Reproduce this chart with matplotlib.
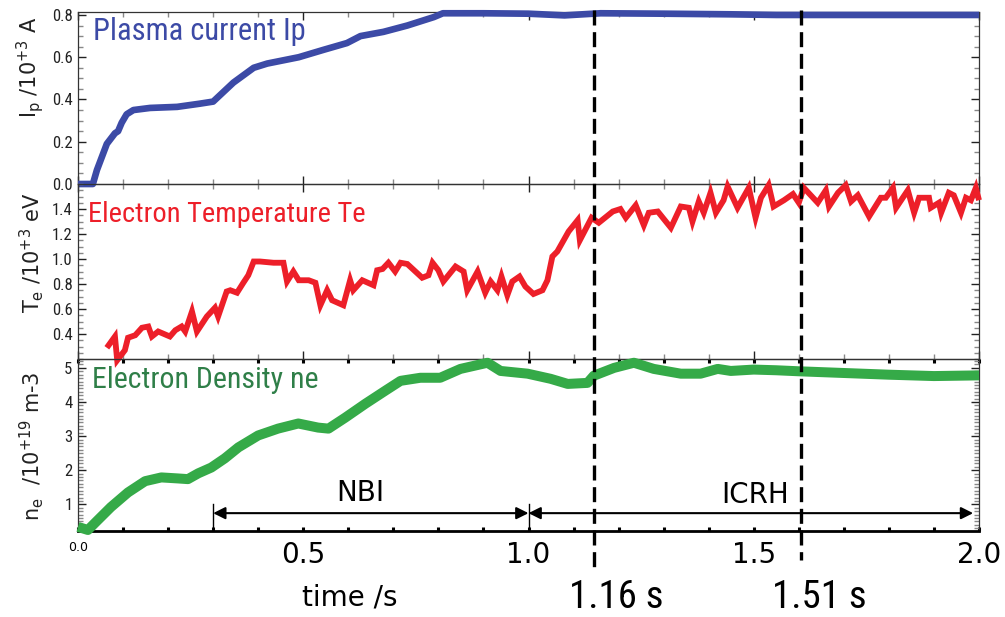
import matplotlib
matplotlib.use("Agg")
import matplotlib.pyplot as plt
from matplotlib import font_manager
from matplotlib.ticker import MultipleLocator
from matplotlib.transforms import blended_transform_factory
from matplotlib.lines import Line2D

# --- plasma current Ip (10^3 A) ---
t_ip = [0.0, 0.033, 0.042, 0.064, 0.082, 0.089, 0.097, 0.108, 0.123, 0.16, 0.22,
        0.27, 0.30, 0.345, 0.39, 0.42, 0.49, 0.545, 0.597, 0.627, 0.678, 0.731,
        0.79, 0.81, 0.9, 1.0, 1.08, 1.16, 1.3, 1.45, 1.55, 1.65, 1.8, 2.0]
ip = [0.0, 0.0, 0.066, 0.19, 0.24, 0.25, 0.29, 0.33, 0.35, 0.36, 0.365,
      0.38, 0.39, 0.48, 0.55, 0.57, 0.60, 0.635, 0.667, 0.70, 0.72, 0.75,
      0.79, 0.808, 0.808, 0.806, 0.798, 0.808, 0.806, 0.803, 0.80, 0.80, 0.80, 0.80]

# --- electron temperature Te (10^3 eV) ---
t_te = [0.064, 0.082, 0.087, 0.104, 0.111, 0.127, 0.142, 0.156, 0.164, 0.178,
        0.204, 0.216, 0.23, 0.238, 0.253, 0.264, 0.286, 0.304, 0.311, 0.33,
        0.338, 0.353, 0.367, 0.378, 0.39, 0.404, 0.434, 0.456, 0.464, 0.478,
        0.49, 0.512, 0.527, 0.538, 0.553, 0.564, 0.589, 0.604, 0.611, 0.631,
        0.656, 0.664, 0.676, 0.689, 0.704, 0.716, 0.731, 0.764, 0.778, 0.787,
        0.80, 0.811, 0.838, 0.856, 0.864, 0.887, 0.904, 0.916, 0.931, 0.94,
        0.953, 0.964, 0.98, 0.993, 1.011, 1.031, 1.042, 1.053, 1.064, 1.089,
        1.109, 1.114, 1.14, 1.156, 1.187, 1.204, 1.216, 1.238, 1.256, 1.267,
        1.287, 1.316, 1.338, 1.356, 1.364, 1.378, 1.389, 1.404, 1.416, 1.433,
        1.442, 1.464, 1.489, 1.504, 1.516, 1.533, 1.544, 1.567, 1.587, 1.60,
        1.611, 1.642, 1.66, 1.667, 1.687, 1.704, 1.716, 1.731, 1.756, 1.782,
        1.793, 1.809, 1.816, 1.842, 1.856, 1.867, 1.889, 1.893, 1.911, 1.916,
        1.933, 1.944, 1.96, 1.971, 1.982, 1.993, 2.0]
te = [0.29, 0.38, 0.19, 0.27, 0.37, 0.39, 0.45, 0.46, 0.38, 0.42,
      0.38, 0.43, 0.46, 0.42, 0.58, 0.42, 0.54, 0.61, 0.54, 0.74,
      0.75, 0.73, 0.81, 0.87, 0.98, 0.98, 0.97, 0.97, 0.82, 0.90,
      0.83, 0.83, 0.81, 0.63, 0.75, 0.67, 0.63, 0.83, 0.75, 0.83,
      0.79, 0.91, 0.92, 0.97, 0.90, 0.97, 0.96, 0.85, 0.87, 0.97,
      0.91, 0.82, 0.94, 0.90, 0.75, 0.90, 0.73, 0.82, 0.75, 0.86,
      0.71, 0.82, 0.86, 0.78, 0.72, 0.75, 0.83, 1.02, 1.06, 1.22,
      1.31, 1.15, 1.33, 1.29, 1.38, 1.40, 1.33, 1.43, 1.27, 1.37,
      1.38, 1.25, 1.42, 1.41, 1.30, 1.46, 1.37, 1.53, 1.37, 1.47,
      1.58, 1.41, 1.57, 1.33, 1.49, 1.59, 1.42, 1.47, 1.52, 1.45,
      1.57, 1.45, 1.55, 1.42, 1.53, 1.59, 1.46, 1.51, 1.34, 1.49,
      1.49, 1.57, 1.41, 1.55, 1.37, 1.49, 1.49, 1.41, 1.45, 1.37,
      1.53, 1.51, 1.37, 1.49, 1.47, 1.57, 1.47]

# --- electron density ne (10^19 m^-3) ---
t_ne = [0.0, 0.022, 0.044, 0.073, 0.111, 0.149, 0.185, 0.222, 0.244, 0.267,
        0.296, 0.326, 0.356, 0.40, 0.444, 0.489, 0.533, 0.556, 0.593, 0.638,
        0.682, 0.716, 0.76, 0.804, 0.849, 0.909, 0.938, 0.998, 1.049, 1.087,
        1.131, 1.145, 1.19, 1.234, 1.278, 1.338, 1.382, 1.42, 1.449, 1.5,
        1.55, 1.6, 1.7, 1.8, 1.9, 2.0]
ne = [0.34, 0.25, 0.54, 0.92, 1.35, 1.68, 1.79, 1.76, 1.74, 1.91,
      2.08, 2.35, 2.67, 3.02, 3.22, 3.37, 3.25, 3.22, 3.54, 3.95,
      4.33, 4.62, 4.71, 4.71, 4.97, 5.15, 4.91, 4.83, 4.68, 4.53,
      4.56, 4.77, 5.0, 5.15, 4.97, 4.83, 4.83, 4.97, 4.91, 4.95,
      4.93, 4.90, 4.85, 4.80, 4.76, 4.78]

# heating phases and marked times
nbi_window = [0.3, 1.0]
icrh_window = [1.0, 1.987]
event_times = [1.145, 1.605]
event_labels = ["1.16 s", "1.51 s"]

xticks = [0.0, 0.5, 1.0, 1.5, 2.0]
xticklabels = ["0.0", "0.5", "1.0", "1.5", "2.0"]

BLUE = "#3c4aa6"
RED = "#ed1f29"
GREEN = "#35aa48"
GREEN_TXT = "#2f7f48"


def pick_font(cands):
    names = {f.name for f in font_manager.fontManager.ttflist}
    for c in cands:
        if c in names:
            return c
    return "DejaVu Sans"


narrow = pick_font(["Roboto Condensed", "DejaVu Sans Condensed",
                    "Liberation Sans Narrow", "Roboto"])

plt.rcParams["font.family"] = ["DejaVu Sans"]
plt.rcParams["mathtext.default"] = "regular"

W, H = 1005, 617
fig = plt.figure(figsize=(W / 100, H / 100), dpi=100)


def fig_rect(x0, y0, x1, y1):
    return [x0 / W, 1 - y1 / H, (x1 - x0) / W, (y1 - y0) / H]


ax_ip = fig.add_axes(fig_rect(78, 12, 979, 184))
ax_te = fig.add_axes(fig_rect(78, 184, 979, 359))
ax_ne = fig.add_axes(fig_rect(78, 359, 979, 531))
axes = [ax_ip, ax_te, ax_ne]

ax_ip.plot(t_ip, ip, color=BLUE, lw=4.8, solid_capstyle="butt",
           solid_joinstyle="round", clip_on=False, zorder=3)
ax_te.plot(t_te, te, color=RED, lw=4.2, solid_capstyle="butt",
           solid_joinstyle="miter", clip_on=False, zorder=3)
ax_ne.plot(t_ne, ne, color=GREEN, lw=7.2, solid_capstyle="butt",
           solid_joinstyle="round", clip_on=False, zorder=3)

ax_ip.set_ylim(0.0, 0.814)
ax_te.set_ylim(0.2, 1.6)
ax_ne.set_ylim(0.22, 5.26)

ax_ip.yaxis.set_major_locator(MultipleLocator(0.2))
ax_ip.yaxis.set_minor_locator(MultipleLocator(0.05))
ax_te.set_yticks([0.4, 0.6, 0.8, 1.0, 1.2, 1.4])
ax_te.yaxis.set_minor_locator(MultipleLocator(0.05))
ax_ne.set_yticks([1, 2, 3, 4, 5])
ax_ne.yaxis.set_minor_locator(MultipleLocator(0.1))

for ax in axes:
    ax.set_xlim(0, 2.0)
    ax.set_xticks(xticks)
    ax.xaxis.set_minor_locator(MultipleLocator(0.1))
    ax.tick_params(which="both", direction="in", top=True, right=True,
                   colors="#222222", labelcolor="#222222")
    ax.tick_params(which="major", length=6, width=1.0)
    ax.tick_params(which="minor", length=3.5, width=1.0, color="#888888")
    ax.tick_params(axis="y", labelsize=12, pad=4)
    for lbl in ax.get_yticklabels():
        lbl.set_family(narrow)
    for s in ax.spines.values():
        s.set_color("#333333")
        s.set_linewidth(0.9)
    ax.set_facecolor("none")
    if ax is not ax_ne:
        ax.tick_params(axis="x", labelbottom=False)

ax_ne.spines["bottom"].set_color("black")
ax_ne.spines["bottom"].set_linewidth(2.0)
ax_ne.set_xticklabels(xticklabels)
ax_ne.tick_params(axis="x", which="both", labelsize=20, pad=7, colors="black",
                  width=2.2, length=3)
ax_ne.get_xticklabels()[0].set_fontsize(9)

# y axis labels
ylab_kw = dict(fontsize=15, color="#222222")
ax_ip.set_ylabel(r"I$_{p}$ /10$^{+3}$ A", **ylab_kw)
ax_te.set_ylabel(r"T$_{e}$ /10$^{+3}$ eV", **ylab_kw)
ax_ne.set_ylabel(r"n$_{e}$  /10$^{+19}$ m-3", **ylab_kw)
ax_ip.yaxis.set_label_coords(-0.036, 0.68)
ax_te.yaxis.set_label_coords(-0.036, 0.61)
ax_ne.yaxis.set_label_coords(-0.036, 0.49)

# panel titles
title_kw = dict(family=narrow, va="baseline", ha="left")
ax_ip.text(0.0166, 0.837, "Plasma current Ip", color=BLUE, fontsize=22,
           transform=ax_ip.transAxes, **title_kw)
ax_te.text(0.011, 0.783, "Electron Temperature Te", color=RED, fontsize=20.5,
           transform=ax_te.transAxes, **title_kw)
ax_ne.text(0.0155, 0.832, "Electron Density ne", color=GREEN_TXT, fontsize=21.5,
           transform=ax_ne.transAxes, **title_kw)

# heating windows
arrow_y = 0.743
bar_top = 1.02
arw = dict(arrowstyle="<|-|>", mutation_scale=18, lw=1.5, color="black",
           shrinkA=0, shrinkB=0)
ax_ne.annotate("", xy=(nbi_window[0], arrow_y), xytext=(nbi_window[1], arrow_y),
               arrowprops=arw)
ax_ne.annotate("", xy=(icrh_window[0], arrow_y), xytext=(icrh_window[1], arrow_y),
               arrowprops=arw)
for x in nbi_window:
    ax_ne.plot([x, x], [0.22, bar_top], color="black", lw=1.0)
ax_ne.text(0.627, 1.33, "NBI", fontsize=20, ha="center", va="center")
ax_ne.text(1.504, 1.27, "ICRH", fontsize=20, ha="center", va="center")

# marked times: dashed lines across all panels, labelled below the axis
trans = blended_transform_factory(ax_ne.transData, fig.transFigure)
line_bottoms = [568, 560]
label_x = [1.195, 1.645]
for x, yb, lab, lx in zip(event_times, line_bottoms, event_labels, label_x):
    fig.add_artist(Line2D([x, x], [1 - 10 / H, 1 - yb / H], transform=trans,
                          color="black", lw=2.4, linestyle=(0, (4.5, 2.0)),
                          zorder=5))
    fig.text(lx, 1 - 598 / H, lab, transform=trans, ha="center", va="center",
             fontsize=28, family=narrow)

fig.text(0.604, 1 - 598 / H, "time /s", transform=trans,
         ha="center", va="center", fontsize=20)

fig.savefig("out.png", dpi=100)
